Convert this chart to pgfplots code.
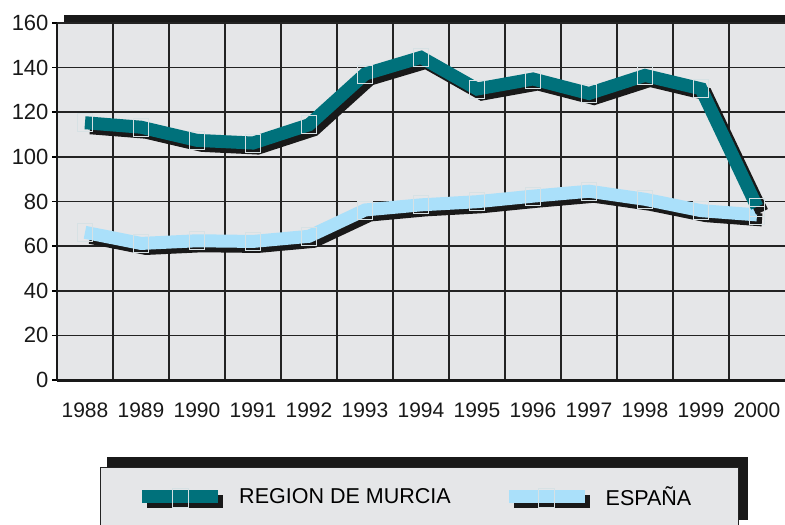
\documentclass[border=0pt]{standalone}
\usepackage{pgfplots}
\pgfplotsset{compat=1.18}
\usepackage{fontspec}
\setmainfont{Liberation Sans}
\definecolor{murcia}{RGB}{0,113,123}
\definecolor{espana}{RGB}{170,224,250}
\definecolor{bg}{RGB}{229,230,232}
\definecolor{gridc}{RGB}{35,35,35}
\definecolor{mk}{RGB}{215,225,228}
\pgfplotstableread{
x murcia espana
0 115.3 66.2
1 113.3 61.2
2 107.4 62.4
3 106.2 62.1
4 114.4 64.4
5 137.1 76.2
6 144.6 78.5
7 130.4 79.9
8 134.9 82.4
9 128.4 84.6
10 136.5 81.0
11 130.5 75.9
12 77.6 74.0
}\datatable
\begin{document}
\begin{tikzpicture}[x=1pt,y=1pt]
\useasboundingbox (-57,-145) rectangle (728,380);
% top shadow band of the plot frame
\fill[black!90] (7,357) rectangle (740,365);
% legend box with shadow
\fill[black!90] (50,-77) rectangle (691,-140);
\filldraw[fill=bg, draw=gridc, line width=0.8pt] (43,-87) rectangle (681,-160);
\begin{axis}[
  scale only axis,
  width=728pt, height=357pt,
  xmin=-0.5, xmax=12.5, ymin=0, ymax=160,
  axis background/.style={fill=bg},
  axis x line*=bottom, axis y line*=left,
  x axis line style={line width=3pt, black!90, -},
  y axis line style={line width=2.5pt, black!90, -},
  xtick={0,...,12},
  xticklabels={1988,1989,1990,1991,1992,1993,1994,1995,1996,1997,1998,1999,2000},
  ytick={0,20,...,160},
  minor xtick={0.5,1.5,...,11.5},
  xminorgrids, ymajorgrids,
  major grid style={gridc, line width=1.5pt},
  minor grid style={gridc, line width=1.5pt},
  xtick style={draw=none},
  minor x tick style={draw=none},
  ytick style={line width=1.5pt, black},
  tick align=outside,
  major tick length=5pt,
  /pgf/number format/assume math mode=true,
  xticklabel style={font=\fontsize{21}{25}\selectfont, text=black!90, yshift=-14pt},
  yticklabel style={font=\fontsize{22}{26}\selectfont, text=black!90},
  clip=false,
  legend columns=2,
  reverse legend,
  legend style={at={(axis description cs:0.1168,-0.3277)}, anchor=west,
    draw=none, fill=none, inner sep=0pt,
    font=\fontsize{21.5}{25}\selectfont,
    /tikz/every odd column/.append style={column sep=14pt},
    /tikz/every even column/.append style={column sep=56pt}},
]
\addplot[black!90, line width=13pt, line join=miter, xshift=5pt, yshift=-5pt, forget plot] table[x=x,y=espana]{\datatable};
\addplot[espana, line width=13pt, line join=miter, mark=square, mark size=7.5pt,
  mark options={draw=mk, line width=0.7pt, fill=none, yscale=1.2},
  legend image code/.code={
    \path[fill=black!90, draw=none] (5pt,-11.5pt) rectangle (81pt,1.5pt);
    \path[fill=espana, draw=none] (0pt,-6.5pt) rectangle (76pt,6.5pt);
    \path[draw=mk, fill=none, line width=0.7pt] (30pt,-10pt) rectangle (46pt,9pt);
  }] table[x=x,y=espana]{\datatable};
\addlegendentry{ESPAÑA}
\addplot[black!90, line width=13pt, line join=miter, xshift=5pt, yshift=-5pt, forget plot] table[x=x,y=murcia]{\datatable};
\addplot[murcia, line width=13pt, line join=miter, mark=square, mark size=7.5pt,
  mark options={draw=mk, line width=0.7pt, fill=none, yscale=1.2},
  legend image code/.code={
    \path[fill=black!90, draw=none] (5pt,-11.5pt) rectangle (81pt,1.5pt);
    \path[fill=murcia, draw=none] (0pt,-6.5pt) rectangle (76pt,6.5pt);
    \path[draw=mk, fill=none, line width=0.7pt] (30pt,-10pt) rectangle (46pt,9pt);
  }] table[x=x,y=murcia]{\datatable};
\addlegendentry{REGION DE MURCIA}
\end{axis}
\end{tikzpicture}
\end{document}
